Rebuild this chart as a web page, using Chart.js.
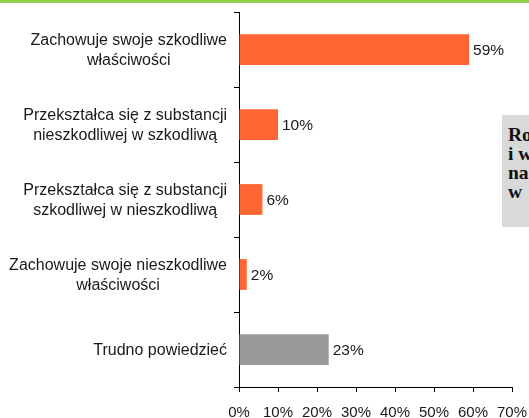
<!DOCTYPE html>
<html lang="pl">
<head>
    <meta charset="UTF-8">
    <title>Wykres</title>
    <script src="https://cdn.jsdelivr.net/npm/chart.js"></script>
    <style>
        html, body {
            margin: 0;
            padding: 0;
            background: #fff;
            overflow: hidden;
        }
        .wrap {
            position: relative;
            width: 529px;
            height: 418px;
        }
        .note {
            position: absolute;
            left: 502px;
            top: 115px;
            width: 200px;
            height: 112px;
            background: #d9d9d9;
            font-family: "Liberation Serif", serif;
            font-weight: bold;
            font-size: 19.5px;
            line-height: 19px;
            color: #111;
            padding: 10px 0 0 6px;
            box-sizing: border-box;
        }
    </style>
</head>
<body>
<div class="wrap">
    <canvas id="chart" width="529" height="418"></canvas>
    <div class="note" id="note"></div>
</div>

<script>
    // dane
    const categories = [
        ['Zachowuje swoje szkodliwe', 'właściwości'],
        ['Przekształca się z substancji', 'nieszkodliwej w szkodliwą'],
        ['Przekształca się z substancji', 'szkodliwej w nieszkodliwą'],
        ['Zachowuje swoje nieszkodliwe', 'właściwości'],
        ['Trudno powiedzieć']
    ];
    const values = [59, 10, 6, 2, 23];
    const barColors = ['#ff6633', '#ff6633', '#ff6633', '#ff6633', '#999999'];
    const xTicks = [0, 10, 20, 30, 40, 50, 60, 70];
    const noteLines = ['Ro', 'i w', 'na', 'w'];

    document.getElementById('note').innerHTML = noteLines.join('<br>');

    // zielony pasek u góry
    const topLine = {
        id: 'topLine',
        beforeDraw(chart) {
            const ctx = chart.ctx;
            ctx.save();
            ctx.fillStyle = '#92d050';
            ctx.fillRect(0, 0, chart.width, 3);
            ctx.restore();
        }
    };

    // etykiety kategorii: blok wyrównany do prawej, linie wyśrodkowane
    const catLabels = {
        id: 'catLabels',
        afterDraw(chart) {
            const ctx = chart.ctx;
            const y = chart.scales.y;
            ctx.save();
            ctx.font = '16px "Liberation Sans", Arial, sans-serif';
            ctx.fillStyle = '#1a1a1a';
            ctx.textAlign = 'center';
            ctx.textBaseline = 'middle';
            const right = 227, lh = 19.5;
            categories.forEach((lines, i) => {
                const w = Math.max(...lines.map(l => ctx.measureText(l).width));
                const cx = right - w / 2;
                const cy = y.getPixelForValue(i) + 1;
                lines.forEach((l, j) => {
                    ctx.fillText(l, cx, cy + (j - (lines.length - 1) / 2) * lh);
                });
            });
            ctx.restore();
        }
    };

    // wartości przy słupkach
    const valueLabels = {
        id: 'valueLabels',
        afterDatasetsDraw(chart) {
            const ctx = chart.ctx;
            const meta = chart.getDatasetMeta(0);
            ctx.save();
            ctx.font = '15.5px "Liberation Sans", Arial, sans-serif';
            ctx.fillStyle = '#1a1a1a';
            ctx.textAlign = 'left';
            ctx.textBaseline = 'middle';
            meta.data.forEach((bar, i) => {
                ctx.fillText(values[i] + '%', bar.x + 4, bar.y + 1);
            });
            ctx.restore();
        }
    };

    new Chart(document.getElementById('chart').getContext('2d'), {
        type: 'bar',
        data: {
            labels: categories,
            datasets: [{
                data: values,
                backgroundColor: barColors,
                borderWidth: 0,
                categoryPercentage: 1,
                barPercentage: 0.41
            }]
        },
        options: {
            indexAxis: 'y',
            responsive: false,
            animation: false,
            layout: { padding: { top: 12, right: 0, left: 0, bottom: 0 } },
            plugins: {
                legend: { display: false },
                tooltip: { enabled: false }
            },
            scales: {
                x: {
                    min: 0,
                    max: 70,
                    afterBuildTicks(scale) {
                        scale.ticks = xTicks.map(v => ({ value: v }));
                    },
                    afterFit(scale) {
                        scale.height = 31;
                        scale.paddingRight = 17;
                    },
                    border: { color: '#000', width: 1 },
                    grid: {
                        drawOnChartArea: false,
                        drawTicks: true,
                        tickLength: 5,
                        color: '#000'
                    },
                    ticks: {
                        padding: 12,
                        color: '#1a1a1a',
                        font: { family: '"Liberation Sans", Arial, sans-serif', size: 15 },
                        callback: v => v + '%'
                    }
                },
                y: {
                    afterFit(scale) { scale.width = 239; },
                    border: { color: '#000', width: 1 },
                    grid: {
                        offset: true,
                        drawOnChartArea: false,
                        drawTicks: true,
                        tickLength: 5,
                        color: '#000'
                    },
                    ticks: { display: false }
                }
            }
        },
        plugins: [topLine, catLabels, valueLabels]
    });
</script>
</body>
</html>
